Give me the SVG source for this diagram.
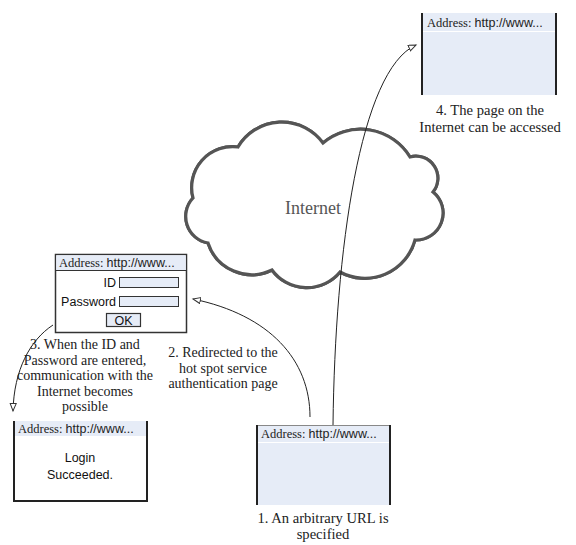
<svg xmlns="http://www.w3.org/2000/svg" width="576" height="545" viewBox="0 0 576 545">
  <style>
    .lbl { font-family: "Liberation Serif", "Times New Roman", serif; font-size: 14px; fill: #222; text-anchor: middle; }
    .lbl-w { font-size: 14.6px; }
    .addr { font-family: "Liberation Serif", serif; font-size: 12.5px; fill: #222; }
    .sans { font-family: "Liberation Sans", Arial, sans-serif; }
    .ui { font-family: "Liberation Sans", Arial, sans-serif; font-size: 12.5px; fill: #111; }
    .page { fill: #e6ecf7; }
    .edge { stroke: #222; stroke-width: 2; fill: none; }
    .conn { fill: none; stroke: #222; stroke-width: 1; }
  </style>
  <defs>
    <marker id="openArrow" markerUnits="userSpaceOnUse" markerWidth="10" markerHeight="9" refX="8" refY="3.5" orient="auto">
      <path d="M0.5,0.5 L8,3.5 L0.5,6.5 Z" fill="#fff" stroke="#333" stroke-width="1"/>
    </marker>
  </defs>
  <rect width="576" height="545" fill="#fff"/>

  <!-- Internet cloud: dark outline with a white core gives the double line -->
  <g id="cloud">
    <path id="cloudShape" d="M238,147 A51,51 0 0 1 323,143 A58,58 0 0 1 410,157 A22,22 0 0 1 433,192 A27,27 0 0 1 415,240 A52,52 0 0 1 340,272 A43,43 0 0 1 272,270 A46,46 0 0 1 208,243 A27,27 0 0 1 193,198 A41,41 0 0 1 238,147 Z" fill="#fff" stroke="#555" stroke-width="3.2" stroke-linejoin="miter"/>
    <use href="#cloudShape" fill="none" stroke="#fff" stroke-width="1.5"/>
    <text x="313" y="214" font-family="Liberation Serif, serif" font-size="18" fill="#555" text-anchor="middle">Internet</text>
  </g>

  <!-- Page on the Internet (top right) -->
  <g id="page-internet">
    <rect class="page" x="422" y="13" width="134" height="82"/>
    <line x1="422" y1="31.5" x2="556" y2="31.5" stroke="#fff" stroke-width="1"/>
    <line class="edge" x1="422" y1="13" x2="422" y2="95"/>
    <line class="edge" x1="556" y1="13" x2="556" y2="95"/>
    <text class="addr" x="427" y="27">Address: <tspan class="sans">http://www...</tspan></text>
  </g>

  <!-- Arbitrary URL page (bottom) -->
  <g id="page-start">
    <rect class="page" x="257" y="425" width="133" height="80"/>
    <line x1="257" y1="425.5" x2="390" y2="425.5" stroke="#888" stroke-width="1"/>
    <line x1="257" y1="442.5" x2="390" y2="442.5" stroke="#fff" stroke-width="1"/>
    <line class="edge" x1="257" y1="425" x2="257" y2="505"/>
    <line class="edge" x1="390" y1="425" x2="390" y2="505"/>
    <text class="addr" x="261" y="438">Address: <tspan class="sans">http://www...</tspan></text>
  </g>

  <!-- Authentication page -->
  <g id="page-auth">
    <rect x="55.5" y="254.5" width="131" height="78" fill="#fff" stroke="#333" stroke-width="1.5"/>
    <rect class="page" x="56.25" y="255.25" width="129.5" height="15" />
    <line x1="55.5" y1="270.5" x2="186.5" y2="270.5" stroke="#333" stroke-width="1"/>
    <text class="addr" x="59" y="267">Address: <tspan class="sans">http://www...</tspan></text>
    <text class="ui" x="116" y="287" text-anchor="end">ID</text>
    <rect class="page" x="119.5" y="277.5" width="59" height="10" stroke="#333" stroke-width="1"/>
    <text class="ui" x="116" y="306" text-anchor="end">Password</text>
    <rect class="page" x="119.5" y="296.5" width="59" height="10" stroke="#333" stroke-width="1"/>
    <rect class="page" x="106.5" y="313.5" width="34" height="13" stroke="#333" stroke-width="1.2"/>
    <text class="ui" x="123.5" y="324.5" text-anchor="middle">OK</text>
  </g>

  <!-- Login succeeded page -->
  <g id="page-success">
    <rect x="14" y="421" width="133" height="80" fill="#fff"/>
    <rect class="page" x="14" y="421" width="133" height="15"/>
    <path class="edge" d="M14,421 V501 H147 V421"/>
    <text class="addr" x="18" y="433">Address: <tspan class="sans">http://www...</tspan></text>
    <text class="ui" x="80" y="462" text-anchor="middle">Login</text>
    <text class="ui" x="80" y="479" text-anchor="middle">Succeeded.</text>
  </g>

  <!-- Connectors -->
  <g id="connectors">
    <path class="conn" d="M333,425 C335,250 360,70 416,45" marker-end="url(#openArrow)"/>
    <path class="conn" d="M310,417 C310,360 270,315 193,299" marker-end="url(#openArrow)"/>
    <path class="conn" d="M53,325 C30,340 14,370 13,411" marker-end="url(#openArrow)"/>
  </g>

  <!-- Step labels -->
  <g id="labels">
    <text class="lbl lbl-w" x="490" y="115">4. The page on the</text>
    <text class="lbl lbl-w" x="490" y="132">Internet can be accessed</text>
    <text class="lbl" x="223" y="357">2. Redirected to the</text>
    <text class="lbl" x="223" y="372.5">hot spot service</text>
    <text class="lbl" x="223" y="388">authentication page</text>
    <text class="lbl" x="85" y="349">3. When the ID and</text>
    <text class="lbl" x="85" y="364.5">Password are entered,</text>
    <text class="lbl" x="85" y="380">communication with the</text>
    <text class="lbl" x="85" y="395.5">Internet becomes</text>
    <text class="lbl" x="85" y="411">possible</text>
    <text class="lbl lbl-w" x="323" y="523">1. An arbitrary URL is</text>
    <text class="lbl lbl-w" x="323" y="539">specified</text>
  </g>
</svg>
